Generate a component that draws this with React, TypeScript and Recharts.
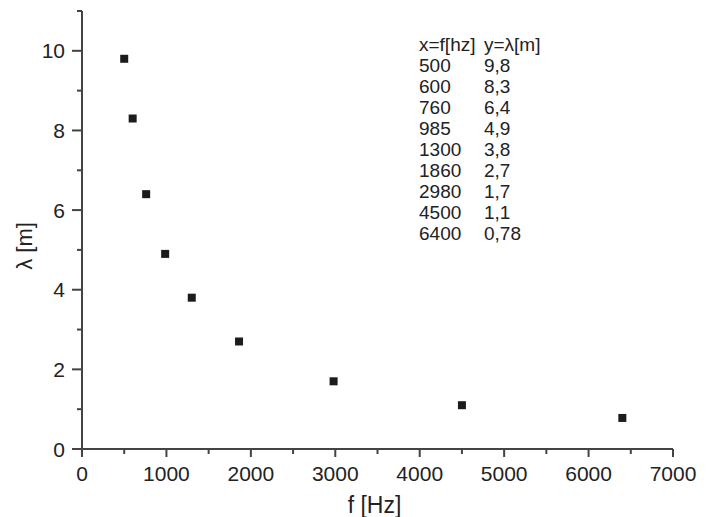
import { Scatter, ScatterChart, XAxis, YAxis } from "recharts";

// measured frequency (Hz) vs wavelength (m)
const frequencies = [500, 600, 760, 985, 1300, 1860, 2980, 4500, 6400];
const wavelengths = [9.8, 8.3, 6.4, 4.9, 3.8, 2.7, 1.7, 1.1, 0.78];

const xTicks = [0, 500, 1000, 1500, 2000, 2500, 3000, 3500, 4000, 4500, 5000, 5500, 6000, 6500, 7000];
const yTicks = [0, 1, 2, 3, 4, 5, 6, 7, 8, 9, 10, 11];

const tableHeader = ["x=f[hz]", "y=λ[m]"];

const FONT = "'Liberation Sans', Arial, sans-serif";
const AXIS_COLOR = "#444";
const TEXT_COLOR = "#222";

const data = frequencies.map((f, i) => ({ f, lambda: wavelengths[i] }));

// the decimal comma in the inline table
const fmt = (v: number) => String(v).replace(".", ",");

// tick marks drawn as thin filled rects: long ones with a label, short ones without
function XTick(props: any) {
  const { x, y, payload } = props;
  const major = payload.value % 1000 === 0;
  return (
    <g>
      <rect x={x - 1} y={y} width={2} height={major ? 8 : 5} fill={AXIS_COLOR} />
      {major && (
        <text x={x} y={y + 32} textAnchor="middle" fill={TEXT_COLOR} fontSize={21} fontFamily={FONT}>
          {payload.value}
        </text>
      )}
    </g>
  );
}

function YTick(props: any) {
  const { x, y, payload } = props;
  const major = payload.value % 2 === 0;
  const len = major ? 10 : 5;
  return (
    <g>
      <rect x={x - len} y={y - 1} width={len} height={2} fill={AXIS_COLOR} />
      {major && (
        <text x={x - 17} y={y + 7.5} textAnchor="end" fill={TEXT_COLOR} fontSize={21} fontFamily={FONT}>
          {payload.value}
        </text>
      )}
    </g>
  );
}

export default function App() {
  return (
    <div style={{ position: "absolute", left: 0, top: 0, width: 715, height: 517, background: "#fff" }}>
      <ScatterChart width={715} height={517} margin={{ top: 11, right: 42, left: 0, bottom: 0 }}>
        <XAxis
          type="number"
          dataKey="f"
          domain={[0, 7000]}
          ticks={xTicks}
          interval={0}
          height={68}
          tickSize={0}
          tickMargin={0}
          tickLine={false}
          tick={<XTick />}
          stroke={AXIS_COLOR}
          strokeWidth={2}
          label={{
            value: "f [Hz]",
            position: "insideBottom",
            offset: 4,
            dx: -3,
            fill: TEXT_COLOR,
            fontSize: 23,
            fontFamily: FONT,
          }}
        />
        <YAxis
          type="number"
          dataKey="lambda"
          domain={[0, 11]}
          ticks={yTicks}
          interval={0}
          width={82}
          tickSize={0}
          tickMargin={0}
          tickLine={false}
          tick={<YTick />}
          stroke={AXIS_COLOR}
          strokeWidth={2}
          label={{
            value: "λ [m]",
            angle: -90,
            position: "center",
            dx: -17,
            dy: 16,
            fill: TEXT_COLOR,
            fontSize: 22,
            fontFamily: FONT,
          }}
        />
        <Scatter
          data={data}
          isAnimationActive={false}
          shape={(p: any) => <rect x={p.cx - 4} y={p.cy - 4} width={8} height={8} fill="#1c1c1c" />}
        />
      </ScatterChart>
      <div
        style={{
          position: "absolute",
          left: 419,
          top: 34,
          fontFamily: FONT,
          fontSize: 19,
          lineHeight: "21px",
          color: TEXT_COLOR,
          display: "grid",
          gridTemplateColumns: "65px auto",
        }}
      >
        <div>{tableHeader[0]}</div>
        <div>{tableHeader[1]}</div>
        {frequencies.map((f, i) => [
          <div key={`f${i}`}>{f}</div>,
          <div key={`l${i}`}>{fmt(wavelengths[i])}</div>,
        ])}
      </div>
    </div>
  );
}
